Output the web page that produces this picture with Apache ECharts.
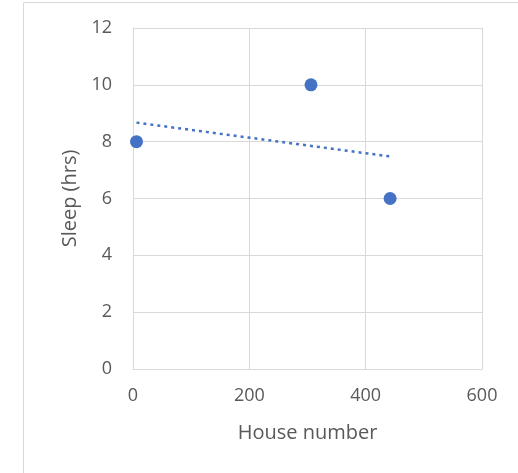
<!DOCTYPE html>
<html>
<head>
<meta charset="utf-8">
<script src="https://cdn.jsdelivr.net/npm/echarts@6/dist/echarts.min.js"></script>
<style>
  html, body { margin: 0; padding: 0; background: #fff; overflow: hidden; }
  #chart { width: 518px; height: 473px; }
</style>
</head>
<body>
<div id="chart"></div>
<script>
// House number vs hours of sleep
const houseNumbers = [6, 306, 442];
const sleepHours = [8, 10, 6];
const xTicks = [0, 200, 400, 600];
const yTicks = [0, 2, 4, 6, 8, 10, 12];

// Least-squares linear trendline across the observed range
function linearFit(xs, ys) {
  const n = xs.length;
  const mx = xs.reduce((a, b) => a + b, 0) / n;
  const my = ys.reduce((a, b) => a + b, 0) / n;
  let sxy = 0, sxx = 0;
  for (let i = 0; i < n; i++) {
    sxy += (xs[i] - mx) * (ys[i] - my);
    sxx += (xs[i] - mx) * (xs[i] - mx);
  }
  const slope = sxy / sxx;
  return x => my + slope * (x - mx);
}
const fit = linearFit(houseNumbers, sleepHours);
const xMin = Math.min(...houseNumbers);
const xMax = Math.max(...houseNumbers);
const trend = [[xMin, fit(xMin)], [xMax, fit(xMax)]];

const FONT = '"Open Sans", "Noto Sans", sans-serif';
const TEXT = '#595959';
const GRID = '#d9d9d9';
const BLUE = '#4472C4';

const chart = echarts.init(document.getElementById('chart'), null, { renderer: 'canvas' });
chart.setOption({
  animation: false,
  backgroundColor: '#fff',
  graphic: [{
    type: 'rect',
    shape: { x: 23.5, y: 2.5, width: 1000, height: 1000 },
    style: { fill: 'none', stroke: GRID, lineWidth: 1 },
    silent: true
  }],
  grid: { left: 133, right: 36, top: 28, bottom: 104 },
  xAxis: {
    type: 'value',
    min: xTicks[0],
    max: xTicks[xTicks.length - 1],
    interval: xTicks[1] - xTicks[0],
    name: 'House number',
    nameLocation: 'middle',
    nameGap: 54,
    nameTextStyle: { color: TEXT, fontSize: 20, fontFamily: FONT },
    axisLine: { show: true, lineStyle: { color: GRID, width: 1 } },
    axisTick: { show: false },
    axisLabel: { color: TEXT, fontSize: 18, fontFamily: FONT, margin: 18 },
    splitLine: { show: true, lineStyle: { color: GRID, width: 1 } }
  },
  yAxis: {
    type: 'value',
    min: yTicks[0],
    max: yTicks[yTicks.length - 1],
    interval: yTicks[1] - yTicks[0],
    name: 'Sleep (hrs)',
    nameLocation: 'middle',
    nameGap: 53,
    nameTextStyle: { color: TEXT, fontSize: 20, fontFamily: FONT },
    axisLine: { show: true, lineStyle: { color: GRID, width: 1 } },
    axisTick: { show: false },
    axisLabel: { color: TEXT, fontSize: 18, fontFamily: FONT, margin: 21 },
    splitLine: { show: true, lineStyle: { color: GRID, width: 1 } }
  },
  series: [
    {
      type: 'line',
      data: trend,
      symbol: 'none',
      lineStyle: { color: BLUE, width: 2.5, type: [3, 4], cap: 'butt' },
      z: 2
    },
    {
      type: 'scatter',
      data: houseNumbers.map((x, i) => [x, sleepHours[i]]),
      symbol: 'circle',
      symbolSize: 13,
      itemStyle: { color: BLUE, opacity: 1 },
      z: 3
    }
  ]
});
</script>
</body>
</html>
